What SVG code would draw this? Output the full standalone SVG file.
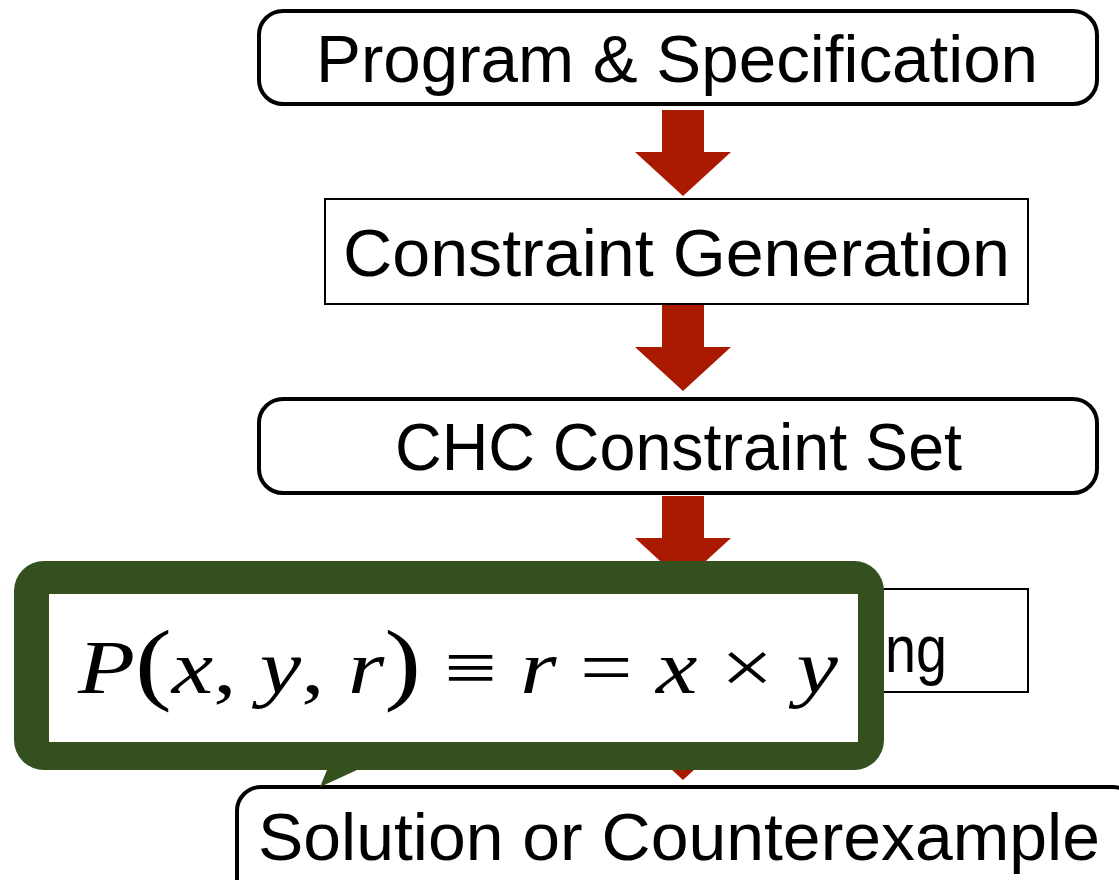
<svg xmlns="http://www.w3.org/2000/svg" width="1119" height="880" viewBox="0 0 1119 880">
<style>
.lbl{font-family:"Liberation Sans",Arial,sans-serif;font-size:67px;fill:#000}
.rbox{fill:#fff;stroke:#000;stroke-width:4}
.sbox{fill:#fff;stroke:#000;stroke-width:2}
.arr{fill:#aa1a00}
.math{font-family:"Liberation Serif","Times New Roman",serif;font-size:76px;fill:#000}
</style>
<defs>
<path id="arrowShape" d="M-21,0 H21 V42 H48 L0,86 L-48,42 H-21 Z" class="arr"/>
</defs>
<g id="connectors">
<use href="#arrowShape" x="683" y="110"/>
<use href="#arrowShape" x="683" y="305"/>
<use href="#arrowShape" x="683" y="496"/>
<use href="#arrowShape" x="683" y="694"/>
</g>
<g id="node-program">
<rect class="rbox" x="259" y="11" width="838" height="93" rx="24"/>
<text class="lbl" x="316" y="82" textLength="722" lengthAdjust="spacingAndGlyphs">Program &amp; Specification</text>
</g>
<g id="node-generation">
<rect class="sbox" x="325" y="199" width="703" height="105"/>
<text class="lbl" x="343" y="276" textLength="667" lengthAdjust="spacingAndGlyphs">Constraint Generation</text>
</g>
<g id="node-chc">
<rect class="rbox" x="259" y="399" width="838" height="94" rx="24"/>
<text class="lbl" x="395" y="470" textLength="567" lengthAdjust="spacingAndGlyphs">CHC Constraint Set</text>
</g>
<g id="node-solving">
<rect class="sbox" x="325" y="589" width="703" height="103"/>
<text class="lbl" x="885" y="672" textLength="62" lengthAdjust="spacingAndGlyphs">ng</text>
</g>
<g id="node-result">
<rect class="rbox" x="237" y="787" width="900" height="120" rx="24"/>
<text class="lbl" x="258" y="860" font-size="69" textLength="842" lengthAdjust="spacingAndGlyphs">Solution or Counterexample</text>
</g>
<g id="callout">
<path d="M44,561 H854 A30,30 0 0 1 884,591 V740 A30,30 0 0 1 854,770 H357 L320,787 L327,770 H44 A30,30 0 0 1 14,740 V591 A30,30 0 0 1 44,561 Z" fill="#34501f"/>
<rect x="49" y="594" width="809" height="148" fill="#fff"/>
<text class="math" x="78" y="693" textLength="760" lengthAdjust="spacingAndGlyphs"><tspan font-style="italic">P</tspan><tspan font-size="90">(</tspan><tspan font-style="italic">x</tspan>, <tspan font-style="italic">y</tspan>, <tspan font-style="italic">r</tspan><tspan font-size="90">)</tspan> ≡ <tspan font-style="italic">r</tspan> = <tspan font-style="italic">x</tspan> × <tspan font-style="italic">y</tspan></text>
</g>
</svg>
